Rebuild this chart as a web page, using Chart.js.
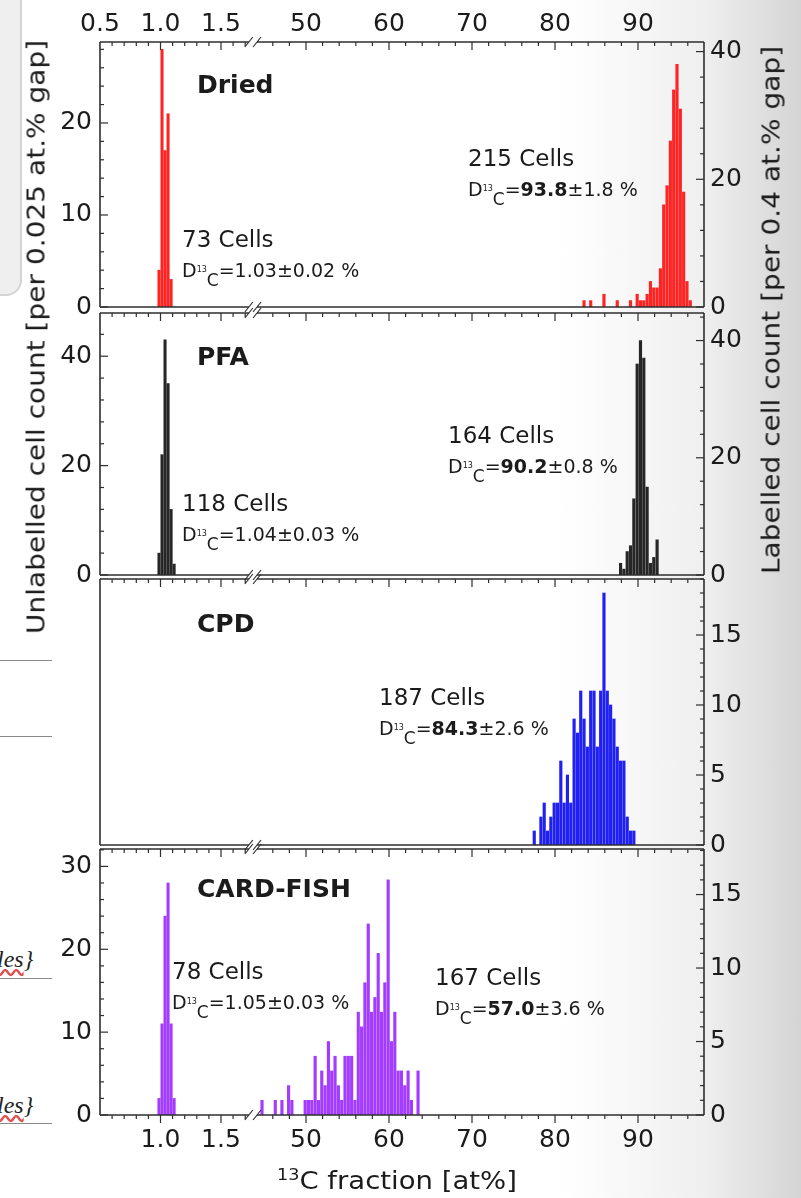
<!DOCTYPE html>
<html>
<head>
<meta charset="utf-8">
<script src="https://cdn.jsdelivr.net/npm/chart.js"></script>
<style>
  html, body { margin: 0; padding: 0; }
  body {
    width: 801px; height: 1198px; position: relative; overflow: hidden;
    font-family: "DejaVu Sans", sans-serif; color: #1b1b1b;
    background: linear-gradient(90deg, #ffffff 0px, #ffffff 560px, #efefef 705px, #d4d4d4 801px);
  }
  canvas { position: absolute; left: 0; }
  .ttl { position: absolute; font-size: 25px; white-space: nowrap; }
  .box { position: absolute; left: -16px; top: -14px; width: 34px; height: 306px;
         border: 2px solid #d4d4d4; border-radius: 16px; background: #efefef; }
  .rule { position: absolute; left: 0; width: 52px; height: 1px; background: #8a8a8a; }
  .frag { position: absolute; left: -3px; font: italic 24px "Liberation Serif", serif; color: #222; }
  .frag u { text-decoration: underline wavy #e05050; }
</style>
</head>
<body>
<div class="box"></div>
<div class="rule" style="top:660px"></div>
<div class="rule" style="top:736px"></div>
<div class="frag" style="top:946px"><u>les</u>}</div>
<div class="rule" style="top:978px"></div>
<div class="frag" style="top:1092px"><u>les</u>}</div>
<div class="rule" style="top:1123px"></div>

<canvas id="p0" width="801" height="330" style="top:0px"></canvas>
<canvas id="p1" width="801" height="308" style="top:290px"></canvas>
<canvas id="p2" width="801" height="308" style="top:558px"></canvas>
<canvas id="p3" width="801" height="372" style="top:826px"></canvas>

<div class="ttl" style="left:36px; top:337px; transform: translate(-50%,-50%) rotate(-90deg) scaleX(1.12);">Unlabelled cell count [per 0.025 at.% gap]</div>
<div class="ttl" style="left:771px; top:310px; transform: translate(-50%,-50%) rotate(-90deg) scaleX(1.12);">Labelled cell count [per 0.4 at.% gap]</div>
<div class="ttl" style="left:397px; top:1180px; transform: translate(-50%,-50%) scaleX(1.1);"><span style="font-size:16px; position:relative; top:-9px;">13</span>C fraction [at%]</div>

<script>
// --- data: bin centres (at%) and cell counts per bin ---
const driedLowX = [0.9875, 1.0125, 1.0375, 1.0625, 1.0875];
const driedLowN = [4, 28, 17, 21, 3];
const driedHighX = [83.5, 84.3, 85.9, 87.5, 89.1, 89.9, 90.3, 90.7, 91.1, 91.5, 91.9, 92.3, 92.7, 93.1, 93.5, 93.9, 94.3, 94.7, 95.1, 95.5, 95.9, 96.3];
const driedHighN = [1, 1, 2, 1, 1, 2, 1, 1, 2, 4, 3, 3, 6, 16, 19, 26, 34, 38, 31, 18, 4, 1];

const pfaLowX = [0.9875, 1.0125, 1.0375, 1.0625, 1.0875, 1.1125];
const pfaLowN = [4, 22, 43, 35, 12, 2];
const pfaHighX = [87.9, 88.3, 88.7, 89.1, 89.5, 89.9, 90.3, 90.7, 91.1, 91.5, 91.9, 92.3];
const pfaHighN = [2, 1, 4, 5, 13, 36, 40, 37, 15, 2, 3, 6];

const cpdHighX = [77.5, 78.3, 78.7, 79.1, 79.5, 79.9, 80.3, 80.7, 81.1, 81.5, 81.9, 82.3, 82.7, 83.1, 83.5, 83.9, 84.3, 84.7, 85.1, 85.5, 85.9, 86.3, 86.7, 87.1, 87.5, 87.9, 88.3, 88.7, 89.1, 89.5];
const cpdHighN = [1, 2, 3, 1, 2, 3, 3, 6, 3, 5, 3, 9, 8, 11, 9, 7, 11, 11, 7, 11, 18, 11, 10, 9, 7, 6, 6, 2, 1, 1];

const fishLowX = [0.9875, 1.0125, 1.0375, 1.0625, 1.0875, 1.1125];
const fishLowN = [2, 11, 24, 28, 11, 2];
const fishHighX = [44.7, 46.3, 47.1, 47.9, 48.3, 49.9, 50.3, 50.7, 51.1, 51.5, 51.9, 52.3, 52.7, 53.1, 53.5, 53.9, 54.3, 54.7, 55.1, 55.5, 55.9, 56.3, 56.7, 57.1, 57.5, 57.9, 58.3, 58.7, 59.1, 59.5, 59.9, 60.3, 60.7, 61.1, 61.5, 61.9, 62.3, 62.7, 63.5];
const fishHighN = [1, 1, 1, 2, 1, 1, 1, 1, 4, 1, 3, 2, 5, 3, 4, 2, 1, 4, 4, 4, 1, 7, 6, 9, 13, 7, 8, 11, 7, 9, 16, 5, 7, 3, 3, 2, 3, 1, 3];

// summary text per panel
const panelNames = ['Dried', 'PFA', 'CPD', 'CARD-FISH'];
const lowCells = [73, 118, null, 78];
const lowMean = ['1.03', '1.04', null, '1.05'];
const lowSd = ['0.02', '0.03', null, '0.03'];
const highCells = [215, 164, 187, 167];
const highMean = ['93.8', '90.2', '84.3', '57.0'];
const highSd = ['1.8', '0.8', '2.6', '3.6'];

// tick labels
const xTicksTopL = [0.5, 1.0, 1.5];
const xTicksBottomL = [1.0, 1.5];
const xTicksR = [50, 60, 70, 80, 90];

const FONT = '"DejaVu Sans", sans-serif';
const INK = '#1b1b1b';
const AXIS = '#2e2e2e';

function seg(ctx, x1, y1, x2, y2) {
  ctx.beginPath(); ctx.moveTo(x1, y1); ctx.lineTo(x2, y2); ctx.stroke();
}

function steps(from, to, step) {
  const out = [];
  for (let v = from; v <= to + 1e-9; v += step) out.push(+v.toFixed(3));
  return out;
}

function writeParts(ctx, parts, x, y) {
  let cx = x;
  for (const p of parts) {
    ctx.font = (p.bold ? 'bold ' : '') + p.size + 'px ' + FONT;
    ctx.fillText(p.t, cx, y + (p.dy || 0));
    cx += ctx.measureText(p.t).width;
  }
}

function note(ctx, x, y, cells, mean, sd, boldMean) {
  writeParts(ctx, [{ t: cells + ' Cells', size: 23 }], x, y);
  writeParts(ctx, [
    { t: 'D', size: 19 }, { t: '13', size: 8, dy: -5 }, { t: 'C', size: 17, dy: 9 },
    { t: '=', size: 19 }, { t: mean, size: 19, bold: boldMean }, { t: '\u00b1' + sd + ' %', size: 19 }
  ], x, y + 30);
}

function framePlugin(p) {
  return {
    id: 'frame',
    afterDraw(chart) {
      const { ctx, chartArea: a, scales } = chart;
      const { xL, xR, yL, yR } = scales;
      const off = p.canvasTop;
      const bL = xL.getPixelForValue(1.73), bR = xR.getPixelForValue(44.1);
      ctx.save();
      ctx.strokeStyle = AXIS;
      ctx.lineWidth = 1.6;
      seg(ctx, a.left, a.top, a.left, a.bottom);
      seg(ctx, a.right, a.top, a.right, a.bottom);
      [a.top, a.bottom].forEach(y => {
        ctx.lineWidth = 1.6;
        seg(ctx, a.left, y, bL, y);
        seg(ctx, bR, y, a.right, y);
        ctx.lineWidth = 1.2;
        seg(ctx, bL - 4, y + 5, bL + 4, y - 5);
        seg(ctx, bR - 4, y + 5, bR + 4, y - 5);
      });

      // x ticks point downwards
      ctx.lineWidth = 1.2;
      const edges = p.bottomAxis ? [a.top, a.bottom] : [a.top];
      edges.forEach(y => {
        steps(0.6, 1.7, 0.1).forEach(v => {
          const px = xL.getPixelForValue(v);
          seg(ctx, px, y, px, y + (xTicksTopL.includes(v) ? 8 : 4));
        });
        steps(46, 96, 2).forEach(v => {
          const px = xR.getPixelForValue(v);
          seg(ctx, px, y, px, y + (xTicksR.includes(v) ? 8 : 4));
        });
      });

      // y ticks point inwards
      if (p.yL.show) {
        steps(0, yL.max, p.yL.minor).forEach(v => {
          const py = yL.getPixelForValue(v);
          seg(ctx, a.left, py, a.left + (p.yL.major.includes(v) ? 8 : 4), py);
        });
      }
      steps(0, yR.max, p.yR.minor).forEach(v => {
        const py = yR.getPixelForValue(v);
        seg(ctx, a.right, py, a.right - (p.yR.major.includes(v) ? 8 : 4), py);
      });

      // x tick labels
      ctx.fillStyle = INK;
      ctx.textAlign = 'center';
      ctx.textBaseline = 'middle';
      ctx.font = '25px ' + FONT;
      if (p.topLabels) {
        xTicksTopL.forEach(v => ctx.fillText(v.toFixed(1), xL.getPixelForValue(v), a.top - 18));
        xTicksR.forEach(v => ctx.fillText(String(v), xR.getPixelForValue(v), a.top - 18));
      }
      if (p.bottomLabels) {
        xTicksBottomL.forEach(v => ctx.fillText(v.toFixed(1), xL.getPixelForValue(v), a.bottom + 25));
        xTicksR.forEach(v => ctx.fillText(String(v), xR.getPixelForValue(v), a.bottom + 25));
      }

      // panel text
      ctx.textAlign = 'left';
      ctx.textBaseline = 'alphabetic';
      writeParts(ctx, [{ t: panelNames[p.i], size: 25, bold: true }], 197, p.nameY - off);
      if (lowCells[p.i] !== null) {
        note(ctx, p.lowNote[0], p.lowNote[1] - off, lowCells[p.i], lowMean[p.i], lowSd[p.i], false);
      }
      note(ctx, p.highNote[0], p.highNote[1] - off, highCells[p.i], highMean[p.i], highSd[p.i], true);
      ctx.restore();
    }
  };
}

const panels = [
  { lowX: driedLowX, lowN: driedLowN, highX: driedHighX, highN: driedHighN, color: '#ff2424',
    yL: { max: 28.8, major: [0, 10, 20], minor: 2, show: true },
    yR: { max: 41.5, major: [0, 20, 40], minor: 4 },
    canvasTop: 0, padTop: 42, padBottom: 20, topLabels: true,
    nameY: 93, lowNote: [182, 247], highNote: [468, 166] },
  { lowX: pfaLowX, lowN: pfaLowN, highX: pfaHighX, highN: pfaHighN, color: '#262626',
    yL: { max: 47.9, major: [0, 20, 40], minor: 4, show: true },
    yR: { max: 44.7, major: [0, 20, 40], minor: 4 },
    canvasTop: 290, padTop: 20, padBottom: 20,
    nameY: 365, lowNote: [182, 511], highNote: [448, 443] },
  { lowX: [], lowN: [], highX: cpdHighX, highN: cpdHighN, color: '#2020f2',
    yL: { max: 10, major: [], minor: 2, show: false },
    yR: { max: 19.0, major: [0, 5, 10, 15], minor: 1 },
    canvasTop: 558, padTop: 20, padBottom: 20,
    nameY: 632, lowNote: null, highNote: [379, 705] },
  { lowX: fishLowX, lowN: fishLowN, highX: fishHighX, highN: fishHighN, color: '#a43cff',
    yL: { max: 32.1, major: [0, 10, 20, 30], minor: 2, show: true },
    yR: { max: 18.1, major: [0, 5, 10, 15], minor: 1 },
    canvasTop: 826, padTop: 20, padBottom: 83, bottomAxis: true, bottomLabels: true,
    nameY: 897, lowNote: [172, 979], highNote: [435, 985] }
];

panels.forEach((p, i) => {
  p.i = i;
  const tickFont = { family: 'DejaVu Sans', size: 25 };
  new Chart(document.getElementById('p' + i), {
    type: 'bar',
    data: {
      datasets: [
        { data: p.lowX.map((x, k) => ({ x, y: p.lowN[k] })), xAxisID: 'xL', yAxisID: 'yL',
          backgroundColor: p.color, borderWidth: 0, barThickness: 2.4, grouped: false },
        { data: p.highX.map((x, k) => ({ x, y: p.highN[k] })), xAxisID: 'xR', yAxisID: 'yR',
          backgroundColor: p.color, borderWidth: 0, barThickness: 2.5, grouped: false }
      ]
    },
    options: {
      responsive: false,
      animation: false,
      layout: { padding: { top: p.padTop, bottom: p.padBottom, left: 0, right: 0 } },
      plugins: { legend: { display: false }, tooltip: { enabled: false } },
      scales: {
        xL: { type: 'linear', position: 'bottom', display: false, offset: false, min: 0.5, max: 0.5 + 604 / 121 },
        xR: { type: 'linear', position: 'bottom', display: false, offset: false, min: 50 - 206 / 8.3, max: 50 + 398 / 8.3 },
        yL: {
          type: 'linear', position: 'left', min: 0, max: p.yL.max,
          afterFit: s => { s.width = 100; },
          afterBuildTicks: s => { s.ticks = p.yL.major.map(v => ({ value: v })); },
          grid: { display: false, drawTicks: false }, border: { display: false },
          ticks: { display: p.yL.show, padding: 8, font: tickFont, color: INK }
        },
        yR: {
          type: 'linear', position: 'right', min: 0, max: p.yR.max,
          afterFit: s => { s.width = 97; },
          afterBuildTicks: s => { s.ticks = p.yR.major.map(v => ({ value: v })); },
          grid: { display: false, drawTicks: false }, border: { display: false },
          ticks: { padding: 6, font: tickFont, color: INK }
        }
      }
    },
    plugins: [framePlugin(p)]
  });
});
</script>
</body>
</html>
